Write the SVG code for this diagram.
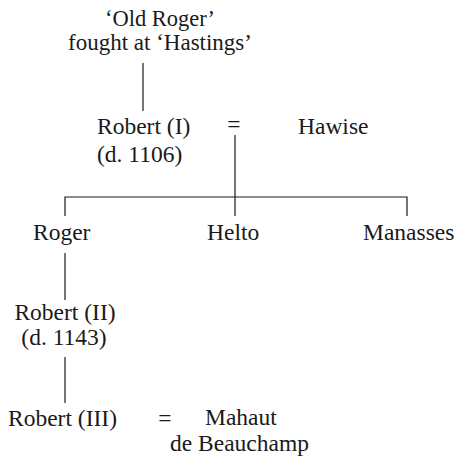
<svg xmlns="http://www.w3.org/2000/svg" width="459" height="459" viewBox="0 0 459 459">
<style>
text{font-family:"Liberation Serif","Times New Roman",serif;font-size:23.5px;fill:#1a1a1a}
.c line,.c polyline{stroke:#1a1a1a;stroke-width:1.2;fill:none}
</style>
<rect width="459" height="459" fill="#fff"/>
<g class="c" id="connectors">
<line x1="143" y1="63" x2="143" y2="111"/>
<line x1="235" y1="135" x2="235" y2="216"/>
<polyline points="65,216 65,197 407,197 407,216"/>
<line x1="65" y1="253" x2="65" y2="300"/>
<line x1="65" y1="357" x2="65" y2="403"/>
</g>
<g id="old-roger"><text x="160" y="25.5" text-anchor="middle" style="font-size:22.5px">‘Old Roger’</text><text x="160" y="50" text-anchor="middle" style="font-size:23px">fought at ‘Hastings’</text></g>
<g id="robert1"><text x="97" y="134">Robert (I)</text><text x="97" y="162">(d. 1106)</text></g>
<g id="m1"><text x="234" y="132" text-anchor="middle">=</text></g>
<g id="hawise"><text x="298" y="134">Hawise</text></g>
<g id="roger"><text x="33" y="240">Roger</text></g>
<g id="helto"><text x="207" y="240">Helto</text></g>
<g id="manasses"><text x="363" y="240">Manasses</text></g>
<g id="robert2"><text x="65" y="320" text-anchor="middle">Robert (II)</text><text x="64" y="345" text-anchor="middle">(d. 1143)</text></g>
<g id="robert3"><text x="8" y="426">Robert (III)</text></g>
<g id="m2"><text x="165" y="426" text-anchor="middle">=</text></g>
<g id="mahaut"><text x="205" y="425">Mahaut</text><text x="170" y="451">de Beauchamp</text></g>
</svg>
